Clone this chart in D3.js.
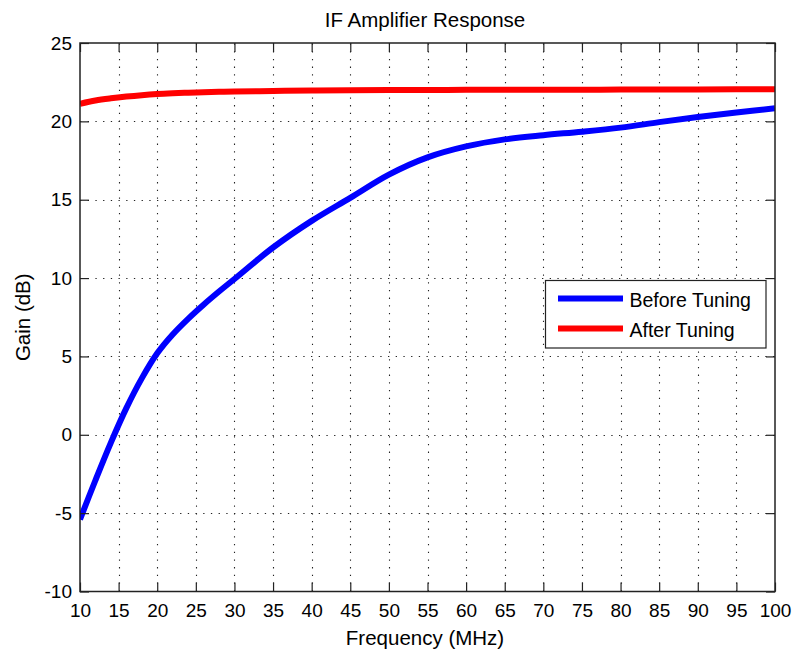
<!DOCTYPE html>
<html>
<head>
<meta charset="utf-8">
<script src="https://cdn.jsdelivr.net/npm/d3@7"></script>
<style>
  html, body { margin: 0; padding: 0; background: #ffffff; }
  svg { display: block; }
  text { font-family: "Liberation Sans", Arial, Helvetica, sans-serif; fill: #000; }
</style>
</head>
<body>
<svg id="chart" width="793" height="651"></svg>
<script>
// ---- Data ----
const frequency = [10, 12, 14, 16, 18, 20, 22, 24, 26, 28, 30, 35, 40, 45, 50, 55, 60, 65, 70, 75, 80, 85, 90, 95, 100];
const beforeTuning = [-5.4, -2.9, -0.5, 1.7, 3.6, 5.2, 6.4, 7.4, 8.3, 9.14, 9.94, 11.95, 13.65, 15.12, 16.6, 17.7, 18.4, 18.85, 19.12, 19.34, 19.6, 19.95, 20.28, 20.57, 20.83];
const afterTuning = [21.12, 21.33, 21.47, 21.58, 21.67, 21.74, 21.79, 21.83, 21.86, 21.885, 21.905, 21.94, 21.965, 21.985, 22.0, 22.0, 22.01, 22.01, 22.02, 22.02, 22.03, 22.04, 22.04, 22.05, 22.05];
const seriesNames = ["Before Tuning", "After Tuning"];
const seriesColors = ["#0000ff", "#ff0000"];
const xTicks = [10, 15, 20, 25, 30, 35, 40, 45, 50, 55, 60, 65, 70, 75, 80, 85, 90, 95, 100];
const yTicks = [-10, -5, 0, 5, 10, 15, 20, 25];
const yTickLabels = ["-10", "-5", "0", "5", "10", "15", "20", "25"];
const titleText = "IF Amplifier Response";
const xLabelText = "Frequency (MHz)";
const yLabelText = "Gain (dB)";

// ---- Layout ----
const plot = { left: 80, right: 775, top: 43, bottom: 591.5 };
const svg = d3.select("#chart");

const x = d3.scaleLinear().domain([10, 100]).range([plot.left, plot.right]);
const y = d3.scaleLinear().domain([-10, 25]).range([plot.bottom, plot.top]);

// grid
const grid = svg.append("g").attr("class", "grid")
  .attr("stroke", "#222").attr("stroke-width", 1.1).attr("stroke-dasharray", "1.3,6.4");
grid.selectAll("line.vx").data(xTicks.slice(1, -1)).join("line")
  .attr("x1", d => Math.round(x(d)) + 0.5).attr("x2", d => Math.round(x(d)) + 0.5)
  .attr("y1", plot.bottom).attr("y2", plot.top);
grid.selectAll("line.hy").data(yTicks.slice(1, -1)).join("line")
  .attr("y1", d => Math.round(y(d)) + 0.5).attr("y2", d => Math.round(y(d)) + 0.5)
  .attr("x1", plot.left).attr("x2", plot.right);

// series lines
const series = [beforeTuning, afterTuning];
const line = d3.line()
  .x((d, i) => x(frequency[i]))
  .y(d => y(d))
  .curve(d3.curveCatmullRom.alpha(0.5));

const clipId = "plotclip";
svg.append("clipPath").attr("id", clipId).append("rect")
  .attr("x", plot.left).attr("y", plot.top)
  .attr("width", plot.right - plot.left).attr("height", plot.bottom - plot.top);

svg.append("g").attr("clip-path", `url(#${clipId})`)
  .selectAll("path").data(series).join("path")
  .attr("d", d => line(d))
  .attr("fill", "none")
  .attr("stroke", (d, i) => seriesColors[i])
  .attr("stroke-width", 6)
  .attr("stroke-linejoin", "round");

// axes (ticks inward, on all four sides)
const tickLen = 9;
const tickFont = "19px";
const axB = svg.append("g").attr("transform", `translate(0,${plot.bottom})`)
  .call(d3.axisBottom(x).tickValues(xTicks).tickSizeInner(-tickLen).tickSizeOuter(0).tickPadding(12.5).tickFormat(d3.format("d")));
const axT = svg.append("g").attr("transform", `translate(0,${plot.top})`)
  .call(d3.axisTop(x).tickValues(xTicks).tickSizeInner(-tickLen).tickSizeOuter(0).tickFormat(""));
const axL = svg.append("g").attr("transform", `translate(${plot.left},0)`)
  .call(d3.axisLeft(y).tickValues(yTicks).tickSizeInner(-tickLen).tickSizeOuter(0).tickPadding(8)
    .tickFormat((d, i) => yTickLabels[i]));
const axR = svg.append("g").attr("transform", `translate(${plot.right},0)`)
  .call(d3.axisRight(y).tickValues(yTicks).tickSizeInner(-tickLen).tickSizeOuter(0).tickFormat(""));

[axB, axT, axL, axR].forEach(g => {
  g.select(".domain").remove();
  g.selectAll(".tick line").attr("stroke", "#222").attr("stroke-width", 1.2);
  g.selectAll(".tick text").attr("font-size", tickFont).attr("fill", "#111")
    .attr("font-family", '"Liberation Sans", Arial, sans-serif');
});

// box
svg.append("rect")
  .attr("x", plot.left).attr("y", plot.top)
  .attr("width", plot.right - plot.left).attr("height", plot.bottom - plot.top)
  .attr("fill", "none").attr("stroke", "#222").attr("stroke-width", 1.5);

// title and axis labels
svg.append("text").attr("x", 425).attr("y", 27).attr("text-anchor", "middle")
  .attr("font-size", "20.5px").text(titleText);
svg.append("text").attr("x", 425).attr("y", 645).attr("text-anchor", "middle")
  .attr("font-size", "20.5px").text(xLabelText);
svg.append("text").attr("transform", `translate(30,${(plot.top + plot.bottom) / 2}) rotate(-90)`)
  .attr("text-anchor", "middle").attr("font-size", "20.5px").text(yLabelText);

// legend
const legend = svg.append("g");
legend.append("rect").attr("x", 545.5).attr("y", 280.5).attr("width", 220.5).attr("height", 67.5)
  .attr("fill", "#fff").attr("stroke", "#222").attr("stroke-width", 1.2);
const legRows = legend.selectAll("g.row").data(seriesNames).join("g")
  .attr("transform", (d, i) => `translate(0,${298.5 + i * 30})`);
legRows.append("line").attr("x1", 558).attr("x2", 623).attr("y1", 0).attr("y2", 0)
  .attr("stroke", (d, i) => seriesColors[i]).attr("stroke-width", 6);
legRows.append("text").attr("x", 629.5).attr("y", 8.5).attr("font-size", "19.5px").text(d => d);
</script>
</body>
</html>
